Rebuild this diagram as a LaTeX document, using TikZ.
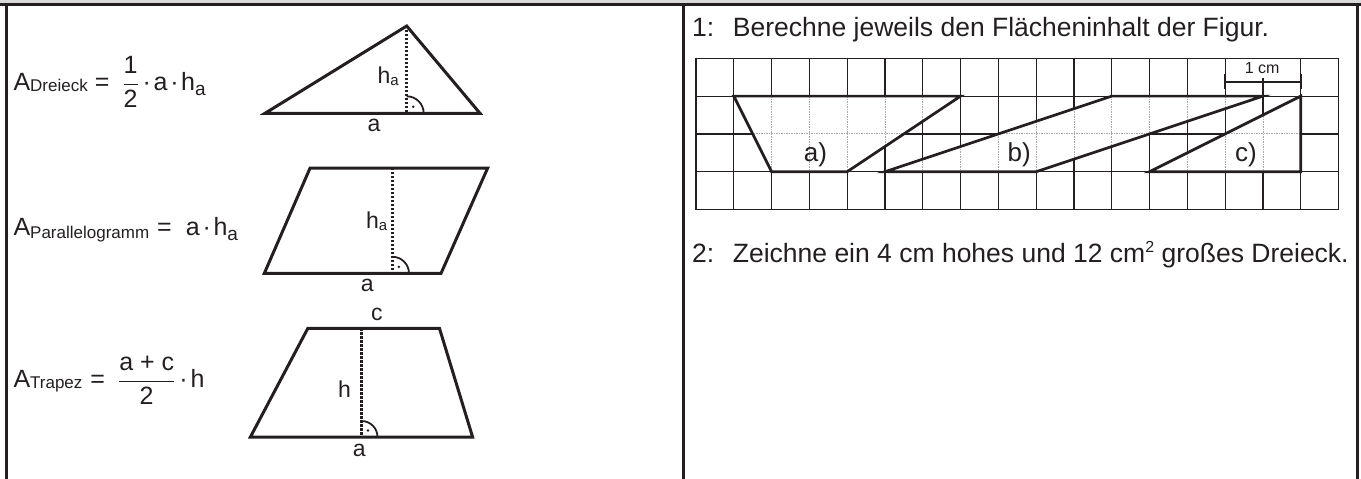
\documentclass[tikz,border=0pt]{standalone}
\usepackage{fontspec}
\setmainfont{Liberation Sans}
\newcommand\fsz[1]{\fontsize{#1}{#1}\selectfont}
\newcommand\subx[3]{\raisebox{-#1pt}{\fsz{#2}#3}}
\newcommand\fracx[2]{$\displaystyle{\hbox{#1}\over\hbox{#2}}$}
\definecolor{ink}{HTML}{231F20}
\definecolor{band}{HTML}{D9D9D9}
\definecolor{gridgray}{HTML}{A8A8A8}
\begin{document}
\begin{tikzpicture}[x=1pt,y=-1pt,
  frameline/.style={draw=ink,line width=2.6pt},
  figline/.style={draw=ink,line width=3pt},
  heightline/.style={draw=ink,line width=2.6pt,dash pattern=on 2.2pt off 1.8pt},
  anglemark/.style={draw=ink,line width=1.8pt},
  gridline/.style={draw=ink,line width=1.2pt},
  gridlight/.style={draw=gridgray,line width=0.9pt,dash pattern=on 1.5pt off 1pt},
  shapeline/.style={draw=ink,line width=2.7pt},
  formula/.style={anchor=base west,inner sep=0pt,text=ink,font=\fsz{25}},
  task/.style={anchor=base west,inner sep=0pt,text=ink,font=\fsz{26.5}},
  figlabel/.style={anchor=base,inner sep=0pt,text=ink,font=\fsz{23}},
  partlabel/.style={inner sep=0pt,text=ink,font=\fsz{26}},
]
\useasboundingbox (0,0) rectangle (1361,479);
% frame
\fill[band] (0,0) rectangle (1361,3.3);
\coordinate (ftl) at (0,4.5);
\coordinate (ftr) at (1361,4.5);
\coordinate (fl1) at (6.2,4.5);
\coordinate (fl2) at (6.2,479);
\coordinate (fm1) at (683.3,4.5);
\coordinate (fm2) at (683.3,479);
\coordinate (fr1) at (1357.7,4.5);
\coordinate (fr2) at (1357.7,479);
\draw[frameline] (ftl) -- (ftr);
\draw[frameline] (fl1) -- (fl2);
\draw[frameline,line width=3pt] (fm1) -- (fm2);
\draw[frameline,line width=3pt] (fr1) -- (fr2);

% formulas
\node[formula] (f1) at (13.3,90) {A\subx{1.7}{17}{Dreieck}\kern7pt=\kern13pt\fracx{1}{2}\kern4pt·\kern2.5pt a\kern3pt·\kern2.5pt h\subx{5}{19}{a}};
\node[formula] (f2) at (13.3,235.6) {A\subx{2.4}{17}{Parallelogramm}\kern8pt=\kern14pt a\kern3pt·\kern2.5pt h\subx{4.6}{19}{a}};
\node[formula] (f3) at (13.3,387.1) {A\subx{1.7}{17}{Trapez}\kern8pt=\kern13pt\fracx{a + c}{2}\kern4pt·\kern3pt h};

% triangle
\coordinate (tA) at (265,113.3);
\coordinate (tB) at (480,113.3);
\coordinate (tC) at (406.7,26);
\coordinate (tF) at (406.7,113.3);
\draw[figline] (tA) -- (tB) -- (tC) -- cycle;
\draw[heightline] (tC) -- (tF);
\draw[anglemark] ([xshift=17pt]tF) arc[start angle=0,end angle=90,radius=17pt];
\fill[ink] ([xshift=6.5pt,yshift=6.5pt]tF) circle[radius=1.4pt];
\node[figlabel,anchor=base east] (tha) at (399,83.3) {h\subx{2}{15}{a}};
\node[figlabel] (ta) at (374,131.7) {a};

% parallelogram
\coordinate (pA) at (264.3,273.4);
\coordinate (pB) at (441,273.4);
\coordinate (pC) at (487.6,168.2);
\coordinate (pD) at (310,168.2);
\coordinate (pT) at (392.4,168.2);
\coordinate (pF) at (392.4,273.4);
\draw[figline] (pA) -- (pB) -- (pC) -- (pD) -- cycle;
\draw[heightline] (pT) -- (pF);
\draw[anglemark] ([xshift=16.6pt]pF) arc[start angle=0,end angle=90,radius=16.6pt];
\fill[ink] ([xshift=6.5pt,yshift=6.5pt]pF) circle[radius=1.4pt];
\node[figlabel,anchor=base east] (pha) at (387.5,228) {h\subx{2}{15}{a}};
\node[figlabel] (pa) at (367.3,291) {a};

% trapezoid
\coordinate (zA) at (250.4,437);
\coordinate (zB) at (472.6,437);
\coordinate (zC) at (439.5,328.4);
\coordinate (zD) at (307.8,328.4);
\coordinate (zT) at (361.5,328.4);
\coordinate (zF) at (361.5,437);
\draw[figline] (zA) -- (zB) -- (zC) -- (zD) -- cycle;
\draw[heightline] (zT) -- (zF);
\draw[anglemark] ([xshift=16pt]zF) arc[start angle=0,end angle=90,radius=16pt];
\fill[ink] ([xshift=6.5pt,yshift=6.5pt]zF) circle[radius=1.4pt];
\node[figlabel] (zc) at (376.8,320.8) {c};
\node[figlabel,anchor=base east] (zh) at (351,397) {h};
\node[figlabel] (za) at (359.2,456.8) {a};

% tasks
\node[task] (t1) at (692,36.7) {\makebox[40.7pt][l]{1:}Berechne jeweils den Flächeninhalt der Figur.};
\node[task] (t2) at (692,262.3) {\makebox[40.7pt][l]{2:}Zeichne ein 4 cm hohes und 12 cm\raisebox{10pt}{\fsz{16}2} großes Dreieck.};

% grid
\begin{scope}[shift={(696,58.3)},x=37.8pt,y=-37.8pt]
  \foreach \i in {0,...,17} \draw[gridline] (\i,0) -- (\i,4);
  \foreach \j in {0,...,4} \draw[gridline] (0,\j) -- (17,\j);
  \begin{scope}
    \clip (1,1) -- (7,1) -- (4,3) -- (2,3) -- cycle
          (5,3) -- (9,3) -- (15,1) -- (11,1) -- cycle
          (12,3) -- (16,3) -- (16,1) -- cycle;
    \fill[white] (0,0) rectangle (17,4);
    \foreach \i in {1,...,16} \draw[gridlight] (\i,1) -- (\i,3);
    \draw[gridlight] (0,2) -- (17,2);
  \end{scope}
  \draw[shapeline] (1,1) -- (7,1) -- (4,3) -- (2,3) -- cycle;
  \draw[shapeline] (5,3) -- (9,3) -- (15,1) -- (11,1) -- cycle;
  \draw[shapeline] (12,3) -- (16,3) -- (16,1) -- cycle;
  \node[partlabel] (la) at (3.16,2.55) {a)};
  \node[partlabel] (lb) at (8.55,2.55) {b)};
  \node[partlabel] (lc) at (14.55,2.55) {c)};
  \node[fill=white,inner sep=0pt,minimum width=40pt,minimum height=19pt,text=ink,font=\fsz{16}] (cm) at (14.98,0.27) {1 cm};
  \coordinate (cmL) at (14,0.62);
  \coordinate (cmR) at (16,0.62);
  \draw[draw=ink,line width=1.6pt] (cmL) -- (cmR);
  \draw[draw=ink,line width=1.8pt] ([yshift=7.5pt]cmL) -- ([yshift=-7.5pt]cmL);
  \draw[draw=ink,line width=1.8pt] ([yshift=7.5pt]cmR) -- ([yshift=-7.5pt]cmR);
\end{scope}
\end{tikzpicture}
\end{document}
